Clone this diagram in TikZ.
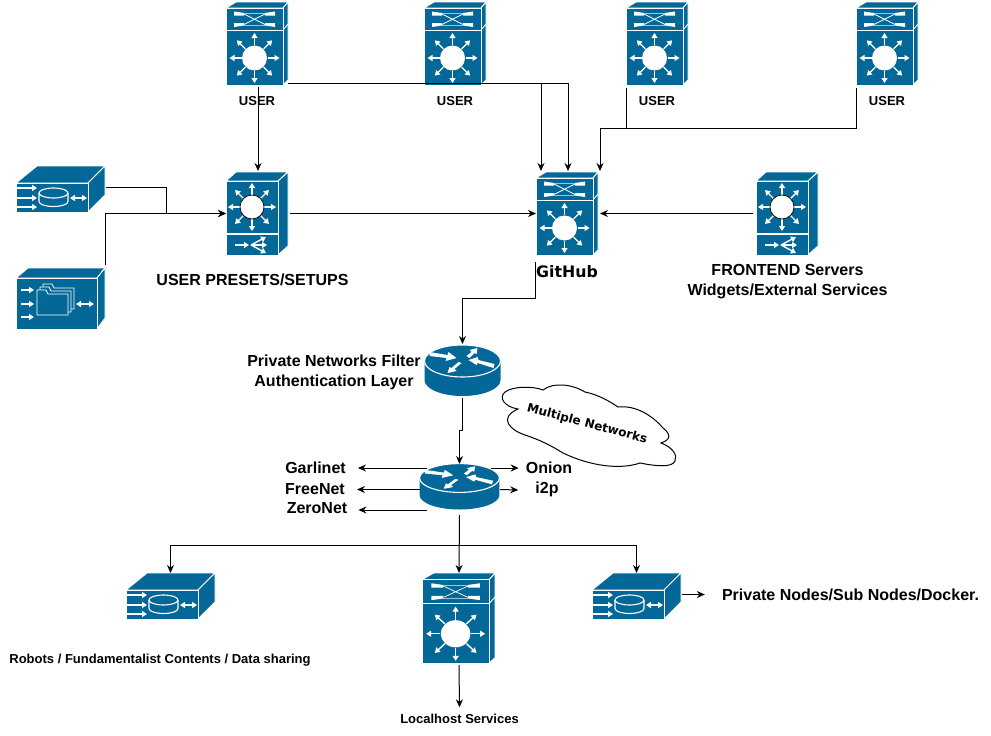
\documentclass[tikz,border=0pt]{standalone}
\usepackage{fontspec}
\setmainfont{Liberation Sans}
\newfontfamily\dejavu{DejaVu Sans}
\usetikzlibrary{arrows.meta,positioning,calc}
\definecolor{ciscoblue}{HTML}{036897}
\tikzset{
  face/.style={fill=ciscoblue,draw=white,line width=.9pt,line join=round},
  glyph/.style={draw=white,line width=1.4pt,-{Triangle[length=5pt,width=6pt]}},
  glyphb/.style={draw=white,line width=1.4pt,{Triangle[length=5pt,width=6pt]}-{Triangle[length=5pt,width=6pt]}},
  iconbox/.style={inner sep=0pt,outer sep=0pt,anchor=north west},
  link/.style={draw=black,line width=1pt,-{Stealth[length=8pt,width=7pt]}},
  wire/.style={draw=black,line width=1pt},
  tag/.style={font=\bfseries\fontsize{16}{18}\selectfont,inner sep=0pt,align=center,text height=13.5pt,text depth=1.5pt},
  smalltag/.style={font=\bfseries\fontsize{13}{15}\selectfont,inner sep=0pt,text height=10.5pt,text depth=1.5pt},
  switchcross/.pic={
    \path[face] (0,6) -- (10,0) -- (62,0) -- (57,6) -- cycle;
    \path[face] (57,6) -- (62,0) -- (62,78) -- (57,83) -- cycle;
    \draw[white,line width=.9pt] (57,28) -- (62,22);
    \path[face] (0,6) rectangle (57,28);
    \path[face] (0,28) rectangle (57,83);
    \fill[white] (8,9.5) -- (18,11) -- (18,13.5) -- (8,13.5) -- cycle (39,11) -- (49,9.5) -- (49,13.5) -- (39,13.5) -- cycle;
    \fill[white] (8,21) -- (18,21) -- (18,23.5) -- (8,25) -- cycle (39,21) -- (49,21) -- (49,25) -- (39,23.5) -- cycle;
    \draw[white,line width=.7pt] (18,12) -- (39,22.5) (18,22.5) -- (39,12);
    \draw[white!60!ciscoblue,line width=.6pt] (18,11.5) -- (39,11.5) (18,23) -- (39,23);
    \foreach \a in {0,45,...,315}
      \draw[glyph] (\a:13) ++(28.5,56) -- ++(\a:12);
    \fill[white] (28.5,56) circle[radius=12.5];
  },
  switchhub/.pic={
    \path[face] (0,9) -- (10,0) -- (62,0) -- (52,9) -- cycle;
    \path[face] (52,9) -- (62,0) -- (62,74) -- (52,83) -- cycle;
    \path[face] (0,9) rectangle (52,61);
    \path[face] (0,62) rectangle (52,83);
    \foreach \a in {0,45,...,315}
      \draw[glyph] (\a:12) ++(26,35) -- ++(\a:12);
    \draw[fill=white,draw=black,line width=.7pt] (26,35) circle[radius=12];
    \draw[glyph] (9,73) -- (23,73);
    \draw[glyph] (25,73) -- (40,65);
    \draw[glyph] (25,73) -- (41,73);
    \draw[glyph] (25,73) -- (40,81);
  },
  storagebox/.pic={
    \path[face] (0,17) -- (21,0) -- (89,0) -- (72,17) -- cycle;
    \path[face] (72,17) -- (89,0) -- (89,29) -- (72,46) -- cycle;
    \path[face] (0,17) rectangle (72,46);
    \foreach \y in {22,32,41}
      \draw[glyph] (0,\y) -- (21,\y);
    \draw[draw=white,line width=1.1pt] (23,27) -- (23,35.5) arc[start angle=180,end angle=0,x radius=14.5,y radius=5] -- (52,27);
    \draw[draw=white,line width=1.1pt] (37.5,27) circle[x radius=14.5,y radius=5];
    \draw[glyphb] (54,32) -- (71,32);
  },
  filesbox/.pic={
    \path[face] (0,10) -- (12,0) -- (89,0) -- (81,10) -- cycle;
    \path[face] (81,10) -- (89,0) -- (89,50) -- (81,61) -- cycle;
    \path[face] (0,10) rectangle (81,61);
    \foreach \y in {22,36,49}
      \draw[glyph] (5,\y) -- (18,\y);
    \foreach \d in {6,3,0}
      \draw[face,line width=.8pt] (21+\d,26-\d) -- (21+\d,22-\d) -- (30+\d,22-\d) -- (32+\d,26-\d) -- (52+\d,26-\d) -- (52+\d,47-\d) -- (21+\d,47-\d) -- cycle;
    \draw[glyphb] (60,36) -- (78,36);
  },
  routerdisc/.pic={
    \path[fill=ciscoblue] (-38,0) -- (-38,19) arc[start angle=180,end angle=0,x radius=38,y radius=16] -- (38,0) -- cycle;
    \draw[face,line width=1.1pt] (0,0) circle[x radius=38,y radius=16];
    \fill[white] (-33,-9) -- (-15,-6) -- (-14,-9) -- (-6,-3) -- (-17,0) -- (-16,-3) -- (-33,-5) -- cycle;
    \fill[white] (32,3) -- (16,-1) -- (15,-4) -- (6,-1) -- (14,4) -- (15,2) -- (31,7) -- cycle;
    \fill[white] (4,-5) -- (9,-9) -- (7,-11) -- (15,-13) -- (14,-7) -- (12,-8) -- (7,-3) -- cycle;
    \fill[white] (-1,2) -- (-8,8) -- (-6,10) -- (-15,12) -- (-13,6) -- (-11,7) -- (-4,1) -- cycle;
  }
}
\begin{document}
\begin{tikzpicture}[x=1pt,y=-1pt,>=Stealth]
\useasboundingbox (0,0) rectangle (991,736);
% top row
\foreach \x/\n in {226/user1,424/user2,626/user3,856/user4} {
  \node[iconbox,minimum width=62pt,minimum height=83pt] (\n) at (\x,2) {};
  \pic at (\n.north west) {switchcross};
  \node[smalltag] (\n-label) at (\x+31,100.5) {USER};
}
\node[iconbox,minimum width=62pt,minimum height=83pt] (preset) at (226,172) {};
\pic at (preset.north west) {switchhub};
\node[iconbox,minimum width=62pt,minimum height=83pt] (github) at (536,172) {};
\pic at (github.north west) {switchcross};
\node[iconbox,minimum width=62pt,minimum height=83pt] (frontend) at (756,172) {};
\pic at (frontend.north west) {switchhub};
\node[iconbox,minimum width=89pt,minimum height=47pt] (store1) at (16,166) {};
\pic at (store1.north west) {storagebox};
\node[iconbox,minimum width=89pt,minimum height=61pt] (files) at (16,268) {};
\pic at (files.north west) {filesbox};
% routers
\node[inner sep=0pt,outer sep=0pt,minimum width=77pt,minimum height=52pt] (filter) at (462.5,370) {};
\pic at (462.5,361) {routerdisc};
\node[inner sep=0pt,outer sep=0pt,minimum width=79pt,minimum height=51pt] (mixnet) at (459.5,489.5) {};
\pic[xscale=1.05,yscale=.9] at (459.5,478) {routerdisc};
% bottom row
\node[iconbox,minimum width=89pt,minimum height=47pt] (store2) at (126,573) {};
\pic at (store2.north west) {storagebox};
\node[iconbox,minimum width=89pt,minimum height=47pt] (store3) at (592,573) {};
\pic at (store3.north west) {storagebox};
\node[iconbox,minimum width=74pt,minimum height=90pt] (local) at (422,573) {};
\pic[xscale=1.18,yscale=1.085] at (local.north west) {switchcross};
% cloud
\draw[fill=white,draw=black,line width=1pt] (518,409) .. controls (505,407) and (498,398) .. (505,392)
  .. controls (513,386) and (533,386) .. (543,390) .. controls (553,382) and (572,384) .. (585,392)
  .. controls (600,395) and (612,403) .. (618,407) .. controls (635,405) and (652,415) .. (663,428)
  .. controls (672,435) and (670,440) .. (661,443) .. controls (672,447) and (678,455) .. (675,461)
  .. controls (672,468) and (655,466) .. (640,463) .. controls (620,470) and (590,466) .. (563,453)
  .. controls (550,445) and (540,440) .. (525,435) .. controls (510,430) and (498,418) .. (518,409) -- cycle;
\node[font=\dejavu\bfseries\fontsize{12}{14}\selectfont,rotate=-15,inner sep=0pt] (cloudtag) at (587,424) {Multiple Networks};
% labels
\node[tag] (presettag) at (252.5,279.5) {USER PRESETS/SETUPS};
\node[font=\dejavu\bfseries\fontsize{15.8}{18}\selectfont,inner sep=0pt] (githubtag) at (567,272) {GitHub};
\node[tag] (fronttag1) at (787.5,269.5) {FRONTEND Servers};
\node[tag] (fronttag2) at (787.5,289.5) {Widgets/External Services};
\node[tag] (filtertag1) at (334,360.5) {Private Networks Filter};
\node[tag] (filtertag2) at (334,380.5) {Authentication Layer};
\node[tag] (garlinet) at (315.5,467.5) {Garlinet};
\node[tag] (freenet) at (315,488.5) {FreeNet};
\node[tag] (zeronet) at (317,507.5) {ZeroNet};
\node[tag] (onion) at (549,467.5) {Onion};
\node[tag] (itwop) at (547,487.5) {i2p};
\node[smalltag] (robots) at (160,658.5) {Robots / Fundamentalist Contents / Data sharing};
\node[smalltag] (localtag) at (459.5,718.5) {Localhost Services};
\node[tag] (privnodes) at (850.5,594.5) {Private Nodes/Sub Nodes/Docker.};
% connectors
\coordinate (ghmerge) at (600,128);
\coordinate (presetbus) at (166,213.5);
\coordinate (fork) at (459,545);
\draw[link] ([xshift=1pt,yshift=-2pt]user1.south) -- ([xshift=1pt,yshift=1pt]preset.north);
\draw[link] ([yshift=2pt]user1.south east) -| ([xshift=-26pt,yshift=1pt]github.north);
\draw[link] ([yshift=2pt]user2.south east) -| ([xshift=1pt,yshift=1pt]github.north);
\draw[wire] ([yshift=-3pt]user3.south west) |- (ghmerge);
\draw[link] ([yshift=-3pt]user4.south west) |- (ghmerge) -- ([xshift=33pt,yshift=1pt]github.north);
\draw[wire] ([xshift=1pt,yshift=2pt]store1.east) -| (presetbus);
\draw[link] (presetbus) -- (preset.west);
\draw[link] ([yshift=3pt]files.north east) |- (preset.west);
\draw[link] ([xshift=2pt]preset.east) -- (github.west);
\draw[link] ([xshift=-3pt]frontend.west) -- ([xshift=2pt]github.east);
\draw[link] ([xshift=-1pt,yshift=-7pt]github.south west) -- ++(0,36) -| (filter.north);
\draw[link] ([yshift=-2pt]filter.south) -- ++(0,32) -| (mixnet.north);
\draw[link] ([xshift=7pt,yshift=-4pt]mixnet.north west) -- ([xshift=12pt,yshift=-.5pt]garlinet.east);
\draw[link] (mixnet.west) -- ([xshift=12pt,yshift=-1pt]freenet.east);
\draw[link] ([xshift=7pt,yshift=5pt]mixnet.south west) -- ([xshift=11pt,yshift=-2.5pt]zeronet.east);
\draw[link] ([xshift=-8pt,yshift=-4pt]mixnet.north east) -- ([xshift=-7pt,yshift=-.5pt]onion.west);
\draw[link] ([xshift=1pt]mixnet.east) -- ([xshift=-17pt,yshift=-2.5pt]itwop.west);
\draw[link] (mixnet.south) -- (local.north);
\draw[link] (fork) -| (store2.north);
\draw[link] (fork) -| (store3.north);
\draw[link] ([yshift=-2pt]local.south) -- ([yshift=5pt]localtag.north);
\draw[link] ([xshift=1pt,yshift=2pt]store3.east) -- ([xshift=-17pt]privnodes.west);
\end{tikzpicture}
\end{document}
